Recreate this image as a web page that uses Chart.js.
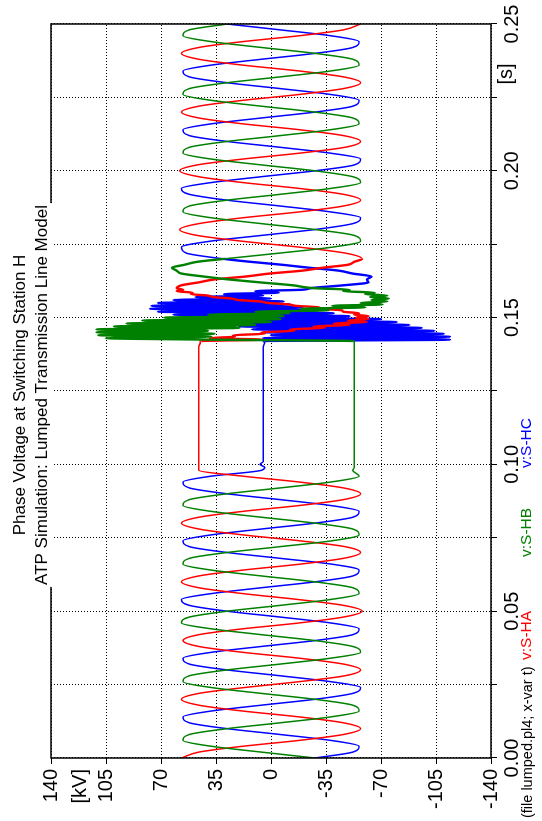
<!DOCTYPE html>
<html>
<head>
<meta charset="utf-8">
<title>Phase Voltage at Switching Station H</title>
<script src="https://cdn.jsdelivr.net/npm/chart.js@4.4.0/dist/chart.umd.min.js"></script>
<style>
  html, body { margin: 0; padding: 0; background: #fff; overflow: hidden; }
  #page { position: relative; width: 542px; height: 821px; }
  /* the plot is laid out landscape, then turned a quarter turn to the left */
  #turn {
    position: absolute; left: 0; top: 0; width: 821px; height: 542px;
    transform-origin: 0 0; transform: translate(0, 821px) rotate(-90deg);
  }
</style>
</head>
<body>
<div id="page"><div id="turn"><canvas id="voltage" width="821" height="542"></canvas></div></div>
<script>
// time axis [s]
const time = [
  0.000, 0.002, 0.004, 0.006, 0.008, 0.010, 0.012, 0.014, 0.016, 0.018,
  0.020, 0.022, 0.024, 0.026, 0.028, 0.030, 0.032, 0.034, 0.036, 0.038,
  0.040, 0.042, 0.044, 0.046, 0.048, 0.050, 0.052, 0.054, 0.056, 0.058,
  0.060, 0.062, 0.064, 0.066, 0.068, 0.070, 0.072, 0.074, 0.076, 0.078,
  0.080, 0.082, 0.084, 0.086, 0.088, 0.090, 0.092, 0.094, 0.096, 0.098,
  0.099, 0.100, 0.101, 0.110, 0.120, 0.130, 0.140, 0.1415,
  0.1420, 0.1425, 0.1430, 0.1435, 0.1440, 0.1445, 0.1450, 0.1455, 0.1460, 0.1465,
  0.1470, 0.1475, 0.1480, 0.1485, 0.1490, 0.1495, 0.1500, 0.1505, 0.1510, 0.1515,
  0.1520, 0.1525, 0.1530, 0.1535, 0.1540, 0.1545, 0.1550, 0.1555, 0.1560, 0.1565,
  0.1570, 0.1575, 0.1580, 0.1585, 0.1590, 0.1595, 0.1600,
  0.161, 0.162, 0.163, 0.164, 0.165, 0.166, 0.167, 0.168, 0.169, 0.170,
  0.172, 0.174, 0.176, 0.178,
  0.180, 0.182, 0.184, 0.186, 0.188, 0.190, 0.192, 0.194, 0.196, 0.198,
  0.200, 0.202, 0.204, 0.206, 0.208, 0.210, 0.212, 0.214, 0.216, 0.218,
  0.220, 0.222, 0.224, 0.226, 0.228, 0.230, 0.232, 0.234, 0.236, 0.238,
  0.240, 0.242, 0.244, 0.246, 0.248, 0.250
];

// v:S-HA [kV]
const vSHA = [
  57, 46, 18, -18, -46, -57, -46, -18, 18, 46,
  57, 46, 17, -18, -47, -57, -46, -18, 18, 46,
  56, 46, 18, -18, -46, -58, -46, -17, 18, 46,
  57, 46, 18, -18, -46, -57, -47, -18, 18, 46,
  57, 46, 18, -18, -46, -57, -46, -18, 18, 46,
  46, 46, 46, 46, 46, 46, 46, 45,
  45, 5, 39, 23, 24, 4, 6, -15, -12, -34,
  -27, -50, -40, -61, -49, -62, -54, -62, -53, -56,
  -46, -45, -32, -30, -16, -11, 2, 7, 21, 25,
  37, 40, 51, 50, 60, 56, 60,
  57, 46, 36, 16, 1, -20, -33, -49, -53, -58,
  -47, -18, 18, 47,
  58, 46, 18, -18, -46, -57, -46, -18, 18, 46,
  58, 47, 18, -18, -47, -57, -46, -18, 18, 46,
  57, 46, 18, -18, -46, -57, -46, -18, 18, 46,
  57, 46, 18, -18, -46, -57
];

// v:S-HB [kV]
const vSHB = [
  -28, 6, 38, 56, 52, 28, -6, -38, -56, -52,
  -28, 6, 38, 56, 52, 28, -6, -38, -57, -52,
  -28, 6, 38, 57, 52, 28, -6, -38, -56, -52,
  -28, 6, 38, 56, 52, 28, -6, -39, -56, -52,
  -28, 6, 38, 56, 52, 28, -6, -38, -56, -52,
  -53, -53, -53, -53, -53, -53, -53, -53,
  -53, 40, 105, 38, 110, 36, 111, 40, 111, 20,
  100, 10, 92, 0, 82, -6, 68, -8, 40, -12,
  10, -37, -19, -60, -39, -71, -57, -74, -64, -75,
  -63, -74, -60, -66, -46, -50, -28,
  -14, 7, 27, 43, 57, 60, 63, 55, 47, 30,
  -6, -39, -57, -53,
  -28, 6, 38, 56, 52, 28, -6, -38, -57, -52,
  -28, 6, 38, 56, 52, 28, -6, -38, -56, -52,
  -28, 6, 38, 56, 52, 28, -6, -38, -56, -52,
  -28, 6, 38, 56, 52, 28
];

// v:S-HC [kV]
const vSHC = [
  -28, -52, -56, -38, -6, 28, 52, 56, 38, 6,
  -28, -52, -57, -38, -6, 28, 52, 56, 38, 6,
  -28, -52, -56, -38, -6, 28, 52, 57, 38, 6,
  -28, -52, -56, -39, -6, 28, 52, 56, 38, 6,
  -28, -52, -56, -38, -6, 28, 52, 56, 38, 6,
  4, 7, 5, 5, 5, 5, 5, 4,
  5, -114, 5, -114, 0, -110, 5, -104, 12, -96,
  20, -88, 28, -80, 38, -70, 50, -50, 62, -40,
  72, -30, 77, -20, 76, -12, 72, -8, 62, 0,
  48, 5, 30, -5, 10, -20, -25,
  -46, -62, -61, -64, -52, -43, -24, -7, 13, 30,
  54, 57, 39, 6,
  -28, -52, -57, -38, -6, 28, 52, 57, 38, 6,
  -28, -53, -57, -38, -6, 28, 52, 56, 38, 6,
  -28, -52, -56, -38, -6, 28, 52, 56, 38, 6,
  -28, -52, -56, -38, -6, 28
];

// axis ticks
const timeGrid = [0, 0.025, 0.05, 0.075, 0.1, 0.125, 0.15, 0.175, 0.2, 0.225, 0.25];
const timeLabels = ["0.00", "", "0.05", "", "0.10", "", "0.15", "", "0.20", "", "0.25"];
const voltTicks = [-140, -105, -70, -35, 0, 35, 70, 105, 140];

const FONT = '"Liberation Sans", Arial, Helvetica, sans-serif';

// the ringing after reclosing is drawn a bit heavier so it fills like the original
function ringing(c) {
  return c.p0.parsed.x >= 0.142 && c.p1.parsed.x <= 0.1705 ? 2.4 : 1.5;
}

function series(values, color) {
  return {
    data: time.map((t, i) => ({ x: t, y: values[i] })),
    borderColor: color,
    borderWidth: 1.5,
    pointRadius: 0,
    fill: false,
    cubicInterpolationMode: "monotone",
    segment: { borderWidth: ringing }
  };
}

function put(ctx, text, x, y, color, size, align) {
  ctx.fillStyle = color;
  ctx.font = size + "px " + FONT;
  ctx.textAlign = align || "center";
  ctx.textBaseline = "alphabetic";
  ctx.fillText(text, x, y);
}

// frame, title, unit labels and the ATP footer
const decorations = {
  id: "decorations",
  afterDatasetsDraw(chart) {
    const { ctx, chartArea: a } = chart;
    ctx.save();
    ctx.strokeStyle = "#000";
    ctx.lineWidth = 1.5;
    ctx.strokeRect(a.left, a.top, a.right - a.left, a.bottom - a.top);
    ctx.restore();
  },
  afterDraw(chart) {
    const { ctx } = chart;
    const y = chart.scales.y;
    ctx.save();
    const cx = 426;
    put(ctx, "Phase Voltage at Switching Station H", cx, 25, "#000", 17);
    ctx.font = "17px " + FONT;
    const w = ctx.measureText("ATP Simulation: Lumped Transmission Line Model").width;
    ctx.fillStyle = "#fff";
    ctx.fillRect(cx - w / 2 - 2, 33, w + 4, 21);
    put(ctx, "ATP Simulation: Lumped Transmission Line Model", cx, 47, "#000", 17);

    put(ctx, "[kV]", 52, y.getPixelForValue(122.5) + 7, "#000", 20, "right");
    put(ctx, "[s]", 747, 512, "#000", 20);

    put(ctx, "(file lumped.pl4; x-var t)", 3, 532, "#000", 14.5, "left");
    put(ctx, "v:S-HA", 161, 531, "#ff0000", 15.5, "left");
    put(ctx, "v:S-HB", 264, 531, "#008000", 15.5, "left");
    put(ctx, "v:S-HC", 353, 531, "#0000ff", 15.5, "left");
    ctx.restore();
  }
};

const gridStyle = {
  color: "#000",
  lineWidth: 1,
  tickLength: 6,
  tickBorderDash: [],
  tickColor: "#000",
  tickWidth: 1
};

new Chart(document.getElementById("voltage"), {
  type: "line",
  data: {
    // first dataset is painted last, so green sits on top and blue underneath
    datasets: [
      series(vSHB, "#008000"),
      series(vSHA, "#ff0000"),
      series(vSHC, "#0000ff")
    ]
  },
  options: {
    responsive: false,
    animation: false,
    devicePixelRatio: 1,
    layout: { padding: { top: 51, right: 24, left: 0, bottom: 0 } },
    plugins: {
      legend: { display: false },
      tooltip: { enabled: false },
      title: { display: false }
    },
    scales: {
      x: {
        type: "linear",
        min: 0,
        max: 0.25,
        afterBuildTicks: (s) => { s.ticks = timeGrid.map((v) => ({ value: v })); },
        afterFit: (s) => { s.height = 51; },
        ticks: {
          autoSkip: false,
          maxRotation: 0,
          padding: 3,
          color: "#000",
          font: { family: FONT, size: 20 },
          callback: (v, i) => timeLabels[i]
        },
        grid: gridStyle,
        border: { display: false, dash: [1, 2] }
      },
      y: {
        min: -140,
        max: 140,
        afterBuildTicks: (s) => { s.ticks = voltTicks.map((v) => ({ value: v })); },
        afterFit: (s) => { s.width = 63; },
        ticks: {
          padding: 5,
          color: "#000",
          font: { family: FONT, size: 20 },
          callback: (v) => String(v)
        },
        grid: gridStyle,
        border: { display: false, dash: [1, 2] }
      }
    }
  },
  plugins: [decorations]
});
</script>
</body>
</html>
